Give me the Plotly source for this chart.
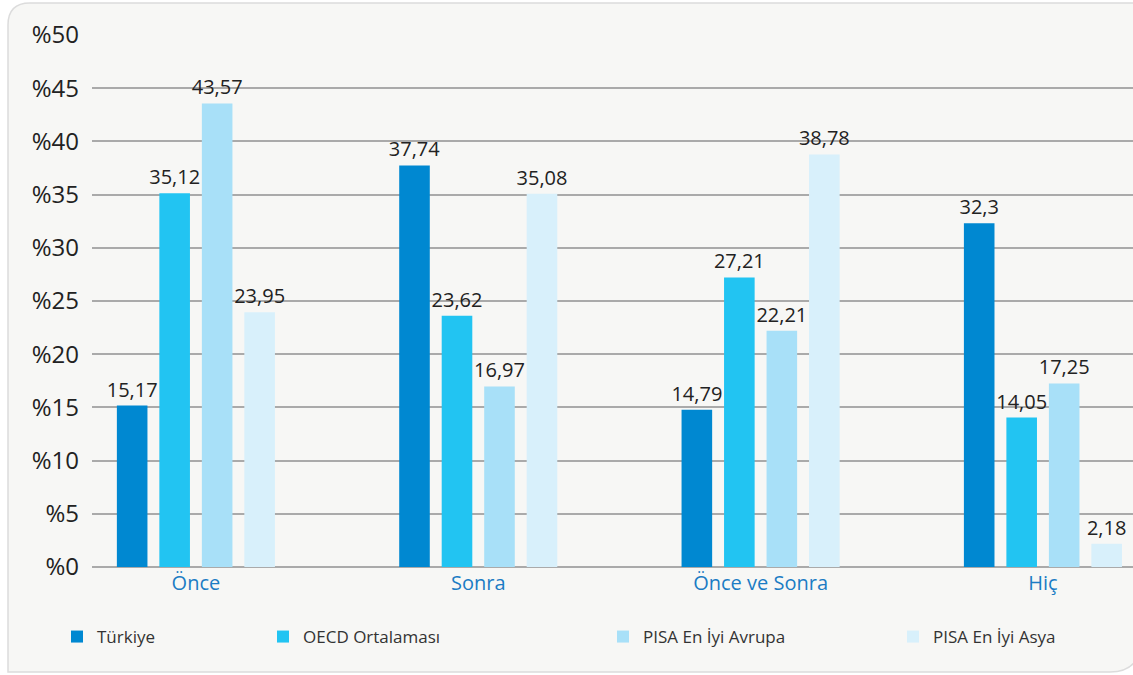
import plotly.graph_objects as go

categories = ["Önce", "Sonra", "Önce ve Sonra", "Hiç"]
series_names = ["Türkiye", "OECD Ortalaması", "PISA En İyi Avrupa", "PISA En İyi Asya"]
turkiye = [15.17, 37.74, 14.79, 32.3]
oecd = [35.12, 23.62, 27.21, 14.05]
avrupa = [43.57, 16.97, 22.21, 17.25]
asya = [23.95, 35.08, 38.78, 2.18]
tick_vals = [0, 5, 10, 15, 20, 25, 30, 35, 40, 45, 50]
tick_text = ["%" + str(v) for v in tick_vals]

colors = ["#0088d1", "#22c4f2", "#a8e0f8", "#d8f0fb"]
series = [turkiye, oecd, avrupa, asya]

W, H = 1133, 675
L, R, T, B = 92, 0, 35, 108
pw, ph = W - L - R, H - T - B


def px(x):
    return (x - L) / pw


def py(y):
    return (H - B - y) / ph


FONT = "Open Sans"
fig = go.Figure()
legend_left_px = [57, 263, 603, 893]
for i, (name, vals, col) in enumerate(zip(series_names, series, colors)):
    lg = "legend" if i == 0 else f"legend{i+1}"
    fig.add_trace(go.Bar(
        x=list(range(len(categories))), y=vals, name=name,
        marker=dict(color=col, line=dict(width=0)),
        text=[("%g" % v).replace(".", ",") for v in vals],
        textposition="outside", cliponaxis=False, constraintext="none",
        textfont=dict(family=FONT, size=20, color="#222222"),
        legend=lg,
    ))

layout_legends = {}
for i, lx in enumerate(legend_left_px):
    key = "legend" if i == 0 else f"legend{i+1}"
    layout_legends[key] = dict(
        x=px(lx), y=py(637), xanchor="left", yanchor="middle",
        bgcolor="rgba(0,0,0,0)", font=dict(family=FONT, size=17, color="#333333"),
        orientation="h",
    )

# rounded panel background
x0, x1, y0, y1 = 8, 1140, 3, 672
r = 22
path = (
    f"M {px(x0 + r)},{py(y0)} L {px(x1)},{py(y0)} "
    f"L {px(x1)},{py(y1 - 30)} Q {px(x1)},{py(y1)} {px(x1 - 30)},{py(y1)} "
    f"L {px(x0)},{py(y1)} L {px(x0)},{py(y0 + r)} "
    f"Q {px(x0)},{py(y0)} {px(x0 + r)},{py(y0)} Z"
)

fig.update_layout(
    width=W, height=H,
    margin=dict(l=L, r=R, t=T, b=B, autoexpand=False),
    paper_bgcolor="white", plot_bgcolor="rgba(0,0,0,0)",
    barmode="group", bargap=0.398, bargroupgap=0.28,
    showlegend=True,
    shapes=[dict(type="path", path=path, xref="paper", yref="paper",
                 fillcolor="#f7f7f5", line=dict(color="#dcdcdc", width=1.5), layer="below")],
    xaxis=dict(
        range=[-0.368, 3.319], tickvals=list(range(len(categories))), ticktext=categories,
        tickfont=dict(family=FONT, size=20, color="#1b7cc4"),
        showgrid=False, zeroline=False, showline=False, ticks="", ticklabelstandoff=2,
    ),
    yaxis=dict(
        range=[0, 50], tickvals=tick_vals, ticktext=tick_text,
        tickfont=dict(family=FONT, size=24, color="#222222"),
        showgrid=True, gridcolor="#aaaaaa", gridwidth=2,
        zeroline=True, zerolinecolor="#aaaaaa", zerolinewidth=2,
        showline=False, ticks="", ticklabelstandoff=12,
    ),
    **layout_legends,
)

fig.write_html("out.html")
